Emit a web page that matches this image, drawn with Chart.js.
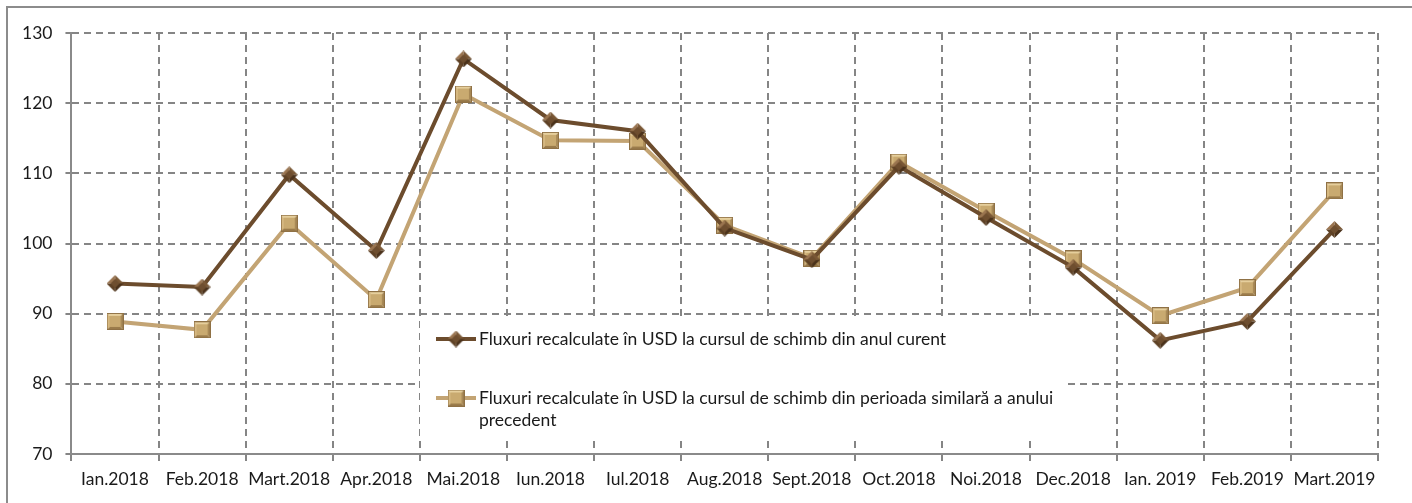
<!DOCTYPE html>
<html>
<head>
<meta charset="utf-8">
<script src="https://cdn.jsdelivr.net/npm/chart.js@4/dist/chart.umd.min.js"></script>
<style>
  html, body { margin: 0; padding: 0; background: #fff; }
  #wrap { position: relative; width: 1412px; height: 503px; overflow: hidden; }
  #frame { position: absolute; left: 6px; top: 6px; right: -4px; bottom: -4px;
           border-left: 2px solid #8c8c8c; border-top: 2px solid #8c8c8c; }
  #chart { position: absolute; left: 0; top: 0; }
</style>
</head>
<body>
<div id="wrap">
  <div id="frame"></div>
  <canvas id="chart" width="1412" height="503"></canvas>
</div>
<script>
// luni (categorii)
const months = ['Ian.2018', 'Feb.2018', 'Mart.2018', 'Apr.2018', 'Mai.2018', 'Iun.2018', 'Iul.2018',
                'Aug.2018', 'Sept.2018', 'Oct.2018', 'Noi.2018', 'Dec.2018', 'Ian. 2019', 'Feb.2019', 'Mart.2019'];

// serii
const currentRate  = [94.3, 93.8, 109.8, 99.0, 126.3, 117.6, 116.0, 102.2, 97.7, 111.0, 103.7, 96.6, 86.2, 88.9, 102.0];
const previousRate = [88.9, 87.7, 102.9, 92.0, 121.3, 114.7, 114.6, 102.6, 97.9, 111.6, 104.6, 97.8, 89.7, 93.7, 107.5];

const seriesNames = [
  'Fluxuri recalculate în USD la cursul de schimb din anul curent',
  'Fluxuri recalculate în USD la cursul de schimb din perioada similară a anului precedent'
];

const yMin = 70, yMax = 130, yStep = 10;

const FONT = 'Lato, "Open Sans", sans-serif';
const DARK = '#6c4c2d';
const LIGHT = '#c3a474';
const GRID = '#858585';

/* ── marker images (bevel look) ── */
function bevelSquare(size) {
  const c = document.createElement('canvas');
  c.width = c.height = size;
  const g = c.getContext('2d');
  const m = size / 2;
  const tri = (pts, col) => {
    g.fillStyle = col; g.beginPath();
    g.moveTo(pts[0], pts[1]); g.lineTo(pts[2], pts[3]); g.lineTo(pts[4], pts[5]);
    g.closePath(); g.fill();
  };
  tri([0, 0, size, 0, m, m], '#e6cf9c');
  tri([0, 0, 0, size, m, m], '#d6b880');
  tri([size, 0, size, size, m, m], '#a98a57');
  tri([0, size, size, size, m, m], '#9b7c4b');
  g.fillStyle = '#c9aa70';
  g.fillRect(3, 3, size - 6, size - 6);
  g.strokeStyle = '#8f7145'; g.lineWidth = 1;
  g.strokeRect(0.5, 0.5, size - 1, size - 1);
  return c;
}

function bevelDiamond(size) {
  const c = document.createElement('canvas');
  c.width = c.height = size;
  const g = c.getContext('2d');
  const m = size / 2;
  const tri = (pts, col) => {
    g.fillStyle = col; g.beginPath();
    g.moveTo(pts[0], pts[1]); g.lineTo(pts[2], pts[3]); g.lineTo(pts[4], pts[5]);
    g.closePath(); g.fill();
  };
  tri([m, 0, 0, m, m, m], '#9a7550');
  tri([m, 0, size, m, m, m], '#7a5836');
  tri([0, m, m, size, m, m], '#5e4125');
  tri([size, m, m, size, m, m], '#4a321b');
  g.fillStyle = '#6e4e2f';
  g.beginPath();
  g.moveTo(m, 4); g.lineTo(size - 4, m); g.lineTo(m, size - 4); g.lineTo(4, m);
  g.closePath(); g.fill();
  return c;
}

const squareImg = bevelSquare(17);
const diamondImg = bevelDiamond(17);

/* ── legend inside the plot, on a white box ── */
const insideLegend = {
  id: 'insideLegend',
  beforeDatasetsDraw(chart) {
    const ctx = chart.ctx;
    ctx.save();
    ctx.fillStyle = '#fff';
    ctx.fillRect(420, 317, 648, 120);

    const items = [
      { y: 339, color: DARK, img: diamondImg, lines: [seriesNames[0]] },
      { y: 398, color: LIGHT, img: squareImg,
        lines: ['Fluxuri recalculate în USD la cursul de schimb din perioada similară a anului', 'precedent'] }
    ];
    ctx.font = '17.5px ' + FONT;
    ctx.textBaseline = 'middle';
    ctx.fillStyle = '#1a1a1a';
    items.forEach(it => {
      ctx.strokeStyle = it.color;
      ctx.lineWidth = 4;
      ctx.beginPath();
      ctx.moveTo(436, it.y); ctx.lineTo(476, it.y);
      ctx.stroke();
      ctx.drawImage(it.img, 456 - it.img.width / 2, it.y - it.img.height / 2);
      it.lines.forEach((t, i) => ctx.fillText(t, 479, it.y + i * 22));
    });
    ctx.restore();
  }
};

new Chart(document.getElementById('chart'), {
  type: 'line',
  data: {
    labels: months,
    datasets: [
      {
        label: seriesNames[0],
        data: currentRate,
        borderColor: DARK,
        borderWidth: 4,
        pointStyle: diamondImg,
        tension: 0
      },
      {
        label: seriesNames[1],
        data: previousRate,
        borderColor: LIGHT,
        borderWidth: 4,
        pointStyle: squareImg,
        tension: 0
      }
    ]
  },
  options: {
    responsive: false,
    animation: false,
    layout: { padding: { left: 9, right: 34, top: 33, bottom: 5 } },
    plugins: { legend: { display: false }, tooltip: { enabled: false } },
    scales: {
      x: {
        offset: true,
        grid: { offset: true, color: GRID, lineWidth: 2, tickLength: 7, tickColor: GRID },
        border: { display: true, color: '#8a8a8a', width: 2, dash: [7, 5] },
        ticks: { color: '#1a1a1a', font: { family: FONT, size: 17.5 }, padding: 8, maxRotation: 0, autoSkip: false }
      },
      y: {
        min: yMin, max: yMax,
        grid: { color: GRID, lineWidth: 2, tickLength: 6, tickColor: GRID },
        border: { display: true, color: '#8a8a8a', width: 2, dash: [7, 5] },
        ticks: { stepSize: yStep, color: '#1a1a1a', font: { family: FONT, size: 17.5 }, padding: 13 }
      }
    }
  },
  plugins: [insideLegend]
});
</script>
</body>
</html>
